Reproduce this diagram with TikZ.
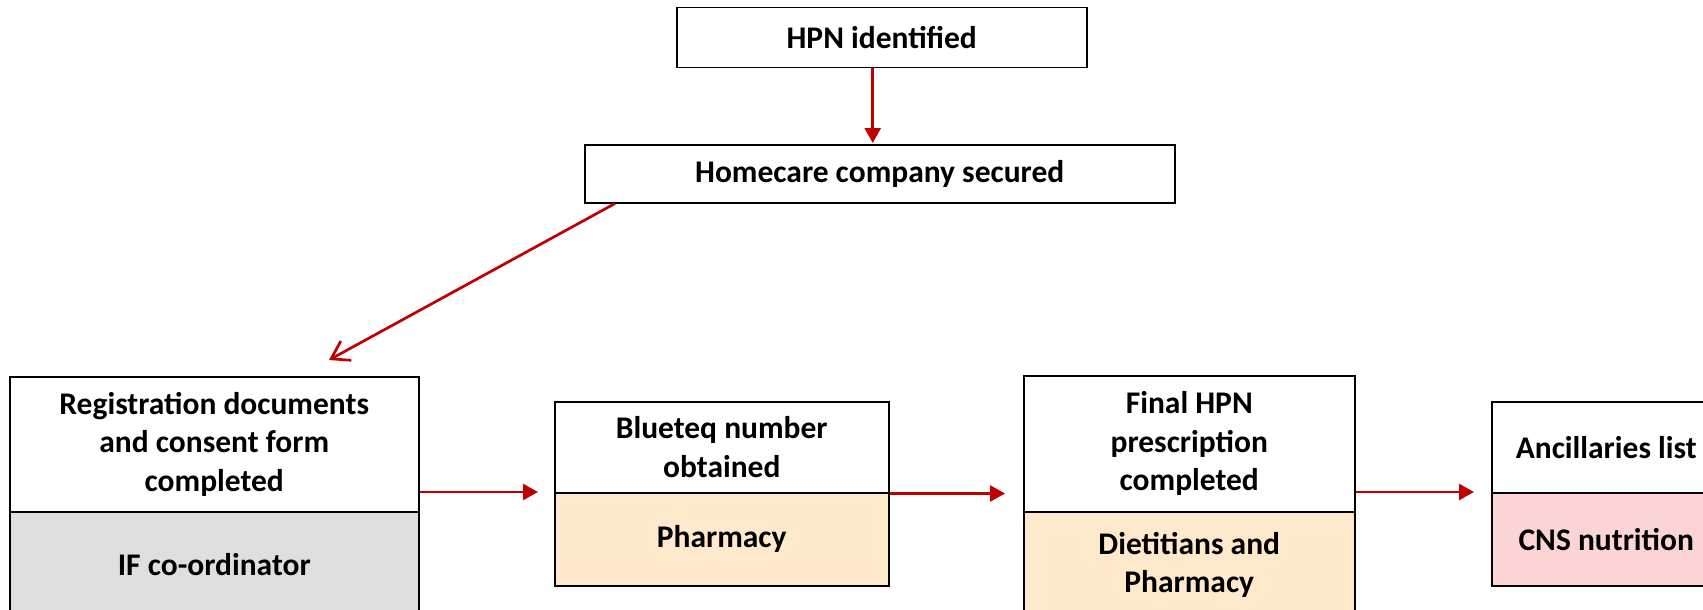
\documentclass[tikz,border=0pt]{standalone}
\usepackage{fontspec}
\setmainfont{Carlito}
\usetikzlibrary{arrows.meta}
\definecolor{arrred}{HTML}{C00000}
\definecolor{grayfill}{HTML}{DFDFDF}
\definecolor{peach}{HTML}{FFE9CC}
\definecolor{pinkfill}{HTML}{FBD5D5}
\begin{document}
\begin{tikzpicture}[x=1pt,y=-1pt,
  box/.style={draw=black, line width=1.5pt, inner sep=0pt, anchor=north west,
    font=\fontsize{31.5}{38.5}\selectfont\bfseries, align=center},
  arr/.style={draw=arrred, line width=2.7pt, -{Triangle[length=15pt,width=16pt]}},
  diagarr/.style={draw=arrred, line width=2.7pt, -{Straight Barb[length=17pt,width=22pt]}}]
\clip (0,0) rectangle (1703,610);
\fill[white] (0,0) rectangle (1703,610);
\node[box, minimum width=410pt, minimum height=60pt] (hpn) at (676,7) {HPN identified};
\node[box, minimum width=590pt, minimum height=58pt] (home) at (584,144) {Homecare company secured};
\node[box, fill=white, minimum width=409pt, minimum height=135pt] (regT) at (9,376) {Registration documents\\and consent form\\completed};
\node[box, fill=grayfill, minimum width=409pt, minimum height=105pt] (regB) at (9,511) {IF co-ordinator};
\node[box, fill=white, minimum width=334pt, minimum height=91pt] (bqT) at (554,401) {Blueteq number\\obtained};
\node[box, fill=peach, minimum width=334pt, minimum height=93pt] (bqB) at (554,492) {Pharmacy};
\node[box, fill=white, minimum width=331pt, minimum height=136pt] (finT) at (1023,375) {Final HPN\\prescription\\completed};
\node[box, fill=peach, minimum width=331pt, minimum height=106pt] (finB) at (1023,511) {Dietitians and\\Pharmacy};
\node[box, fill=white, minimum width=229pt, minimum height=91pt] (ancT) at (1491,401) {Ancillaries list};
\node[box, fill=pinkfill, minimum width=229pt, minimum height=93pt] (ancB) at (1491,492) {CNS nutrition};
\coordinate (dend) at (329,360);
\draw[arr, shorten >=1pt] ([xshift=-9pt]hpn.south) -- ([xshift=-9pt]hpn.south |- home.north);
\draw[diagarr] ([xshift=31pt]home.south west) -- (dend);
\draw[arr] (regT.east |- bqB.north west) -- ([xshift=-16pt]bqB.north west);
\draw[arr] (bqT.south east) -- ([xshift=-18pt]finT.west |- bqT.south east);
\draw[arr] (finT.east |- ancB.north west) -- ([xshift=-17pt]ancB.north west);
\end{tikzpicture}
\end{document}
